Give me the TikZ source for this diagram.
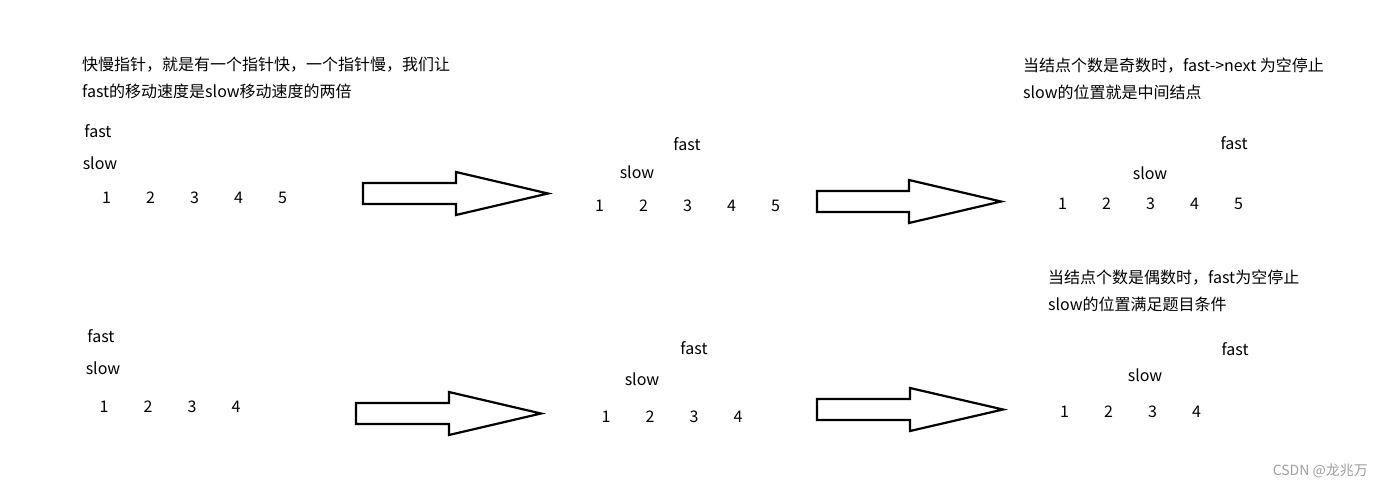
\documentclass[tikz,border=0pt]{standalone}
\usepackage{fontspec}
\setmainfont{Noto Sans CJK SC}
\tikzset{%
  % Specifications for style of texts and block arrows:
         base/.style = {inner sep=0pt, text=black,
                        font=\fontsize{16}{27}\selectfont},
         note/.style = {base, align=left, anchor=west},
      pointer/.style = {base},
          num/.style = {base},
    watermark/.style = {inner sep=0pt, anchor=east, text=black!38,
                        font=\fontsize{14}{16}\selectfont},
   blockarrow/.style = {draw=black, line width=2.2pt, fill=white,
                        line join=miter},
}
\begin{document}
\begin{tikzpicture}[x=1pt, y=-1pt, node distance=44pt]
  \useasboundingbox (0,0) rectangle (1383,487);
  % Notes
  \node (noteA) [note] at (82,77.5)   {快慢指针，就是有一个指针快，一个指针慢，我们让\\fast的移动速度是slow移动速度的两倍};
  \node (noteB) [note] at (1023,78.5) {当结点个数是奇数时，fast->next 为空停止\\slow的位置就是中间结点};
  \node (noteC) [note] at (1048,290.5) {当结点个数是偶数时，fast为空停止\\slow的位置满足题目条件};
  % Odd list, start
  \node (fastA)  [pointer] at (98,131)  {fast};
  \node (slowA)  [pointer] at (100,163) {slow};
  \node (a1)     [num] at (106.5,198)   {1};
  \node (a2)     [num, right of=a1]     {2};
  \node (a3)     [num, right of=a2]     {3};
  \node (a4)     [num, right of=a3]     {4};
  \node (a5)     [num, right of=a4]     {5};
  % Odd list, one step
  \node (fastB)  [pointer] at (687,144) {fast};
  \node (slowB)  [pointer] at (637,172) {slow};
  \node (b1)     [num] at (599.5,206)   {1};
  \node (b2)     [num, right of=b1]     {2};
  \node (b3)     [num, right of=b2]     {3};
  \node (b4)     [num, right of=b3]     {4};
  \node (b5)     [num, right of=b4]     {5};
  % Odd list, end
  \node (fastC)  [pointer] at (1234,143) {fast};
  \node (slowC)  [pointer] at (1150,173) {slow};
  \node (c1)     [num] at (1062.5,204)   {1};
  \node (c2)     [num, right of=c1]      {2};
  \node (c3)     [num, right of=c2]      {3};
  \node (c4)     [num, right of=c3]      {4};
  \node (c5)     [num, right of=c4]      {5};
  % Even list, start
  \node (fastD)  [pointer] at (101,336) {fast};
  \node (slowD)  [pointer] at (103,368) {slow};
  \node (d1)     [num] at (104,407)     {1};
  \node (d2)     [num, right of=d1]     {2};
  \node (d3)     [num, right of=d2]     {3};
  \node (d4)     [num, right of=d3]     {4};
  % Even list, one step
  \node (fastE)  [pointer] at (694,348) {fast};
  \node (slowE)  [pointer] at (642,379) {slow};
  \node (e1)     [num] at (606,416.5)   {1};
  \node (e2)     [num, right of=e1]     {2};
  \node (e3)     [num, right of=e2]     {3};
  \node (e4)     [num, right of=e3]     {4};
  % Even list, end
  \node (fastF)  [pointer] at (1235,349) {fast};
  \node (slowF)  [pointer] at (1145,375) {slow};
  \node (f1)     [num] at (1064.5,412)   {1};
  \node (f2)     [num, right of=f1]      {2};
  \node (f3)     [num, right of=f2]      {3};
  \node (f4)     [num, right of=f3]      {4};
  % Block arrows between the steps
  \draw[blockarrow] (363,183) -- ++(93,0) -- ++(0,-11) -- ++(92,21.5)
                    -- ++(-92,21.5) -- ++(0,-11) -- ++(-93,0) -- cycle;
  \draw[blockarrow] (817,191) -- ++(92,0) -- ++(0,-11) -- ++(92,21.5)
                    -- ++(-92,21.5) -- ++(0,-11) -- ++(-92,0) -- cycle;
  \draw[blockarrow] (356,403) -- ++(93,0) -- ++(0,-11) -- ++(92,21.5)
                    -- ++(-92,21.5) -- ++(0,-11) -- ++(-93,0) -- cycle;
  \draw[blockarrow] (817,399) -- ++(93,0) -- ++(0,-11) -- ++(93,21.5)
                    -- ++(-93,21.5) -- ++(0,-11) -- ++(-93,0) -- cycle;
  \node (credit) [watermark] at (1368,471) {CSDN @龙兆万};
\end{tikzpicture}
\end{document}
